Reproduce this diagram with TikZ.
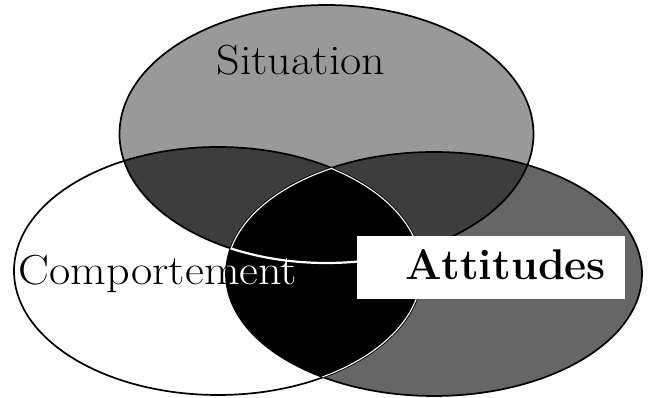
\documentclass[tikz,border=0pt]{standalone}
\usetikzlibrary{positioning}

\newcommand{\sitpath}{(326.5,264) ellipse [x radius=207, y radius=129]}
\newcommand{\compath}{(218,127) ellipse [x radius=204, y radius=124]}
\newcommand{\attpath}{(434,124) ellipse [x radius=208, y radius=122]}

\begin{document}
\begin{tikzpicture}[x=1pt,y=1pt,
  lbl/.style={inner sep=0pt,font=\fontsize{42}{50}\selectfont},
  rim/.style={line width=1.7pt},
  cut/.style={white,line width=2.2pt}]
  \useasboundingbox (0,0) rectangle (651,398);
  % plain areas
  \fill[black!40] \sitpath;
  \fill[black!60] \attpath;
  % two-set overlaps
  \begin{scope} \clip \sitpath; \fill[black!76] \compath; \fill[black!76] \attpath; \end{scope}
  \begin{scope} \clip \compath; \fill[black] \attpath; \end{scope}
  \draw[rim] \sitpath; \draw[rim] \compath; \draw[rim] \attpath;
  % labels
  \node[lbl,anchor=base] (sit) at (301,323) {\scalebox{1.1}[1]{Situation}};
  \node[lbl,anchor=base] (comp) at (158,113) {\scalebox{1.1}[1]{Comportement}};
  \begin{scope} \clip \compath; \clip \attpath;
    \draw[cut] \sitpath; \draw[cut] \compath;
    \begin{scope} \clip \sitpath; \draw[cut] \attpath; \end{scope}
    \node[lbl,anchor=base,white] at (comp.base) {\scalebox{1.1}[1]{Comportement}};
  \end{scope}
  \node[fill=white,minimum width=268pt,minimum height=63pt,inner sep=0pt] (box) at (491,130.5) {};
  \node[lbl,anchor=base,font=\fontsize{43}{50}\selectfont\bfseries] (att) at (506,118) {Attitudes};
\end{tikzpicture}
\end{document}
